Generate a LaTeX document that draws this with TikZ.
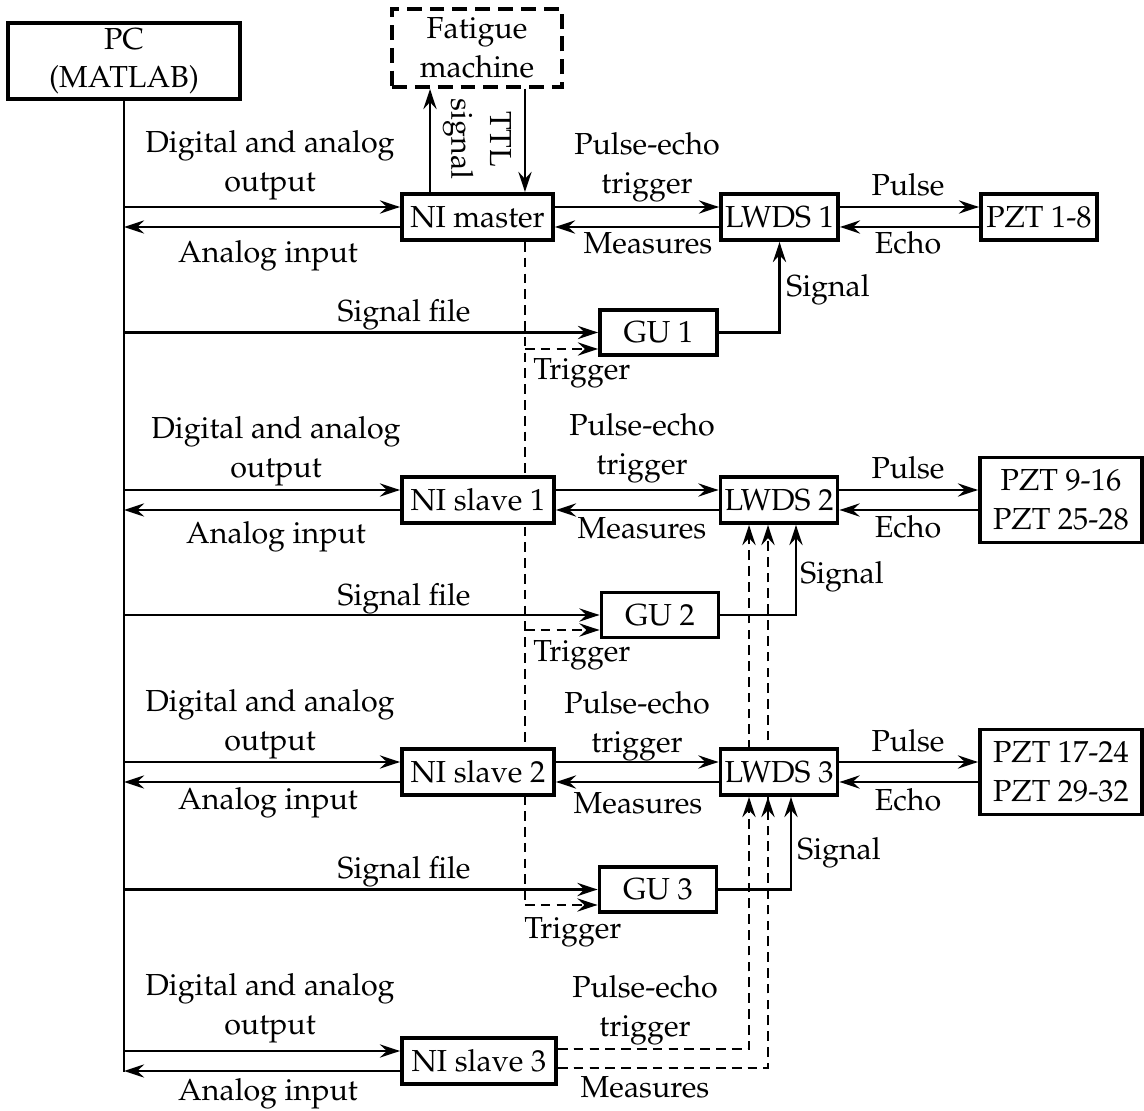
\documentclass[tikz,border=0pt]{standalone}
\usepackage[T1]{fontenc}
\usepackage{mathpazo}
\usetikzlibrary{arrows.meta,backgrounds}
\newcommand\figfont{\fontsize{17.3}{22}\selectfont}
\begin{document}
\begin{tikzpicture}[x=0.02cm,y=-0.02cm,
  box/.style={draw, line width=2.2pt, fill=white, inner sep=0pt, align=center, font=\figfont},
  lbl/.style={inner sep=0pt, align=center, font=\figfont},
  ln/.style={line width=1.6pt},
  conn/.style={line width=1.6pt, -{Stealth[length=11.5pt,width=7.5pt,inset=4pt]}},
  dconn/.style={conn, dash pattern=on 5.5pt off 3.5pt},
  dln/.style={ln, dash pattern=on 5.5pt off 3.5pt},
]
\useasboundingbox (0,0) rectangle (1144,1111);

% boxes
\node[box, minimum width=4.64cm, minimum height=1.52cm] (PC) at (124,61) {PC\\(MATLAB)};
\node[box, dash pattern=on 8.5pt off 4.5pt, minimum width=3.4cm, minimum height=1.56cm] (F) at (477,48) {Fatigue\\machine};
\node[box, minimum width=3.02cm, minimum height=0.92cm] (N0) at (477.5,217) {NI master};
\node[box, minimum width=3.04cm, minimum height=0.92cm] (N1) at (478,500) {NI slave 1};
\node[box, minimum width=3.04cm, minimum height=0.92cm] (N2) at (478,772) {NI slave 2};
\node[box, minimum width=3.08cm, minimum height=0.92cm] (N3) at (479,1061) {NI slave 3};
\node[box, minimum width=2.34cm, minimum height=0.92cm] (L1) at (779.5,217) {LWDS 1};
\node[box, minimum width=2.34cm, minimum height=0.92cm] (L2) at (779,500) {LWDS 2};
\node[box, minimum width=2.34cm, minimum height=0.92cm] (L3) at (779,772) {LWDS 3};
\node[box, minimum width=2.32cm, minimum height=0.92cm] (P1) at (1039,217) {PZT 1-8};
\node[box, minimum width=3.24cm, minimum height=1.7cm] (P2) at (1061,500) {PZT 9-16\\PZT 25-28};
\node[box, minimum width=3.24cm, minimum height=1.7cm] (P3) at (1061,772) {PZT 17-24\\PZT 29-32};
\node[box, minimum width=2.34cm, minimum height=0.9cm] (G1) at (658.5,332.5) {GU 1};
\node[box, minimum width=2.34cm, minimum height=0.9cm] (G2) at (660,615) {GU 2};
\node[box, minimum width=2.34cm, minimum height=0.9cm] (G3) at (658,889.5) {GU 3};

% labels
\node[lbl, rotate=-90] (ttl) at (477,139) {TTL\\signal};
\node[lbl] (d0) at (270,165) {Digital and analog\\output};
\node[lbl] (a0) at (268,256) {Analog input};
\node[lbl] (pe0) at (647,167) {Pulse-echo\\trigger};
\node[lbl] (me0) at (648,243) {Measures};
\node[lbl] (pu1) at (908,185) {Pulse};
\node[lbl] (ec1) at (908,243) {Echo};
\node[lbl] (sf1) at (404,315) {Signal file};
\node[lbl, anchor=west] (tr1) at (533,373) {Trigger};
\node[lbl, anchor=west] (si1) at (786,290) {Signal};

\node[lbl] (d1) at (276,451) {Digital and analog\\output};
\node[lbl] (a1) at (276,537) {Analog input};
\node[lbl] (pe1) at (642,448) {Pulse-echo\\trigger};
\node[lbl] (me1) at (642,528) {Measures};
\node[lbl] (pu2) at (908,468) {Pulse};
\node[lbl] (ec2) at (908,527) {Echo};
\node[lbl] (sf2) at (404,599) {Signal file};
\node[lbl, anchor=west] (tr2) at (533,655) {Trigger};
\node[lbl, anchor=west] (si2) at (800,577) {Signal};

\node[lbl] (d2) at (270,724) {Digital and analog\\output};
\node[lbl] (a2) at (268,803) {Analog input};
\node[lbl] (pe2) at (637,726) {Pulse-echo\\trigger};
\node[lbl] (me2) at (638,803) {Measures};
\node[lbl] (pu3) at (908,741) {Pulse};
\node[lbl] (ec3) at (908,800) {Echo};
\node[lbl] (sf3) at (404,872) {Signal file};
\node[lbl, anchor=west] (tr3) at (524,932) {Trigger};
\node[lbl, anchor=west] (si3) at (797,853) {Signal};

\node[lbl] (d3) at (270,1008) {Digital and analog\\output};
\node[lbl] (a3) at (268,1094) {Analog input};
\node[lbl] (pe3) at (645,1010) {Pulse-echo\\trigger};
\node[lbl] (me3) at (645,1087) {Measures};

% coordinates
\coordinate (pcend) at (124,1072);
\coordinate (up1) at ([xshift=-0.95cm]N0.north);
\coordinate (dn1) at ([xshift=0.95cm]N0.north);
\coordinate (g1t) at ([yshift=-0.33cm]G1.west);
\coordinate (g2t) at ([yshift=-0.30cm]G2.west);
\coordinate (g3t) at ([yshift=-0.31cm]G3.west);
\coordinate (s2) at ([xshift=0.34cm]L2.south);
\coordinate (s3) at ([xshift=0.24cm]L3.south);
\coordinate (n3a) at ([yshift=0.24cm]N3.east);
\coordinate (n3b) at ([yshift=-0.14cm]N3.east);
\coordinate (da2) at ([xshift=-0.6cm]L2.south);
\coordinate (db2) at ([xshift=-0.22cm]L2.south);
\coordinate (da3) at ([xshift=-0.6cm]L3.south);
\coordinate (db3) at ([xshift=-0.22cm]L3.south);
\foreach \n in {N0,N1,N2,N3}{
  \coordinate (\n-o) at ([yshift=0.2cm]\n.west);
  \coordinate (\n-i) at ([yshift=-0.2cm]\n.west);
}

\begin{pgfonlayer}{background}
\draw[ln] (PC.south) -- (pcend);
% fatigue
\draw[conn] (up1) -- (up1 |- F.south);
\draw[conn] (dn1 |- F.south) -- (dn1);
% NI <-> PC
\foreach \n in {N0,N1,N2,N3}{
  \draw[conn] (PC.south |- \n-o) -- (\n-o);
  \draw[conn] (\n-i) -- (PC.south |- \n-i);
}
% NI <-> LWDS, LWDS <-> PZT
\foreach \n/\l/\p in {N0/L1/P1,N1/L2/P2,N2/L3/P3}{
  \draw[conn] ([yshift=0.2cm]\n.east) -- ([yshift=0.2cm]\l.west);
  \draw[conn] ([yshift=-0.2cm]\l.west) -- ([yshift=-0.2cm]\n.east);
  \draw[conn] ([yshift=0.2cm]\l.east) -- ([yshift=0.2cm]\p.west);
  \draw[conn] ([yshift=-0.2cm]\p.west) -- ([yshift=-0.2cm]\l.east);
}
% signal files
\draw[conn] (PC.south |- G1.west) -- (G1.west);
\draw[conn] (PC.south |- G2.west) -- (G2.west);
\draw[conn] (PC.south |- G3.west) -- (G3.west);
% triggers
\draw[dln] (N0.south -| dn1) -- (dn1 |- g3t);
\draw[dconn] (dn1 |- g1t) -- (g1t);
\draw[dconn] (dn1 |- g2t) -- (g2t);
\draw[dconn] (dn1 |- g3t) -- (g3t);
% GU -> LWDS
\draw[conn] (G1.east) -| (L1.south);
\draw[conn] (G2.east) -| (s2);
\draw[conn] (G3.east) -| (s3);
% NI slave 3 -> LWDS 2,3
\draw[dconn] (n3a) -| (da2);
\draw[dconn] (n3a) -| (da3);
\draw[dconn] (n3b) -| (db2);
\draw[dconn] (n3b) -| (db3);
\end{pgfonlayer}
\end{tikzpicture}
\end{document}
